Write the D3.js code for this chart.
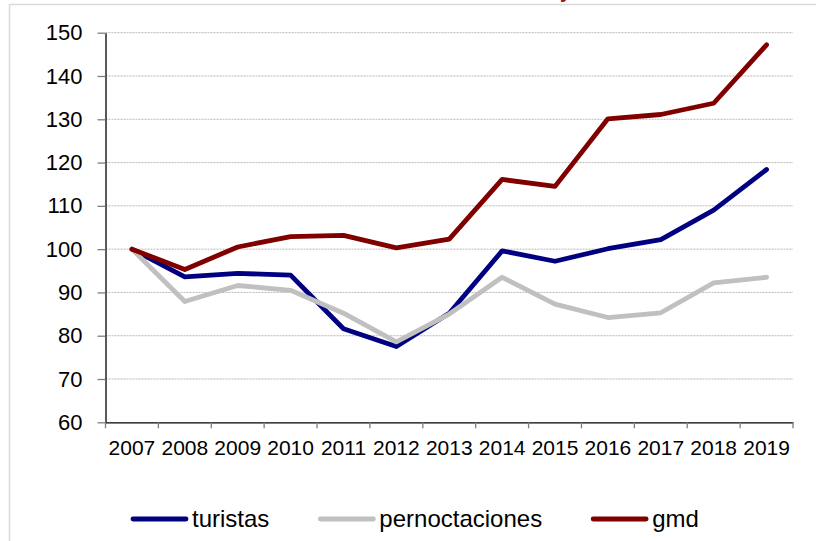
<!DOCTYPE html>
<html>
<head>
<meta charset="utf-8">
<script src="https://cdn.jsdelivr.net/npm/d3@7"></script>
<style>
  html, body { margin: 0; padding: 0; background: #fff; }
  svg { display: block; font-family: "Liberation Sans", Arial, sans-serif; }
</style>
</head>
<body>
<svg id="chart" width="816" height="541"></svg>
<script>
const years = ["2007","2008","2009","2010","2011","2012","2013","2014","2015","2016","2017","2018","2019"];
const turistas = [100, 93.6, 94.4, 94.0, 81.6, 77.5, 85.2, 99.6, 97.2, 100.1, 102.2, 109.0, 118.4];
const pernoctaciones = [100, 87.9, 91.6, 90.5, 85.2, 78.6, 85.0, 93.5, 87.3, 84.2, 85.3, 92.2, 93.5];
const gmd = [100, 95.3, 100.5, 102.9, 103.2, 100.3, 102.3, 116.1, 114.5, 130.1, 131.1, 133.7, 147.2];
const yTicks = [60, 70, 80, 90, 100, 110, 120, 130, 140, 150];
const seriesNames = ["turistas", "pernoctaciones", "gmd"];
const seriesColors = ["#000080", "#c0c0c0", "#800000"];
const seriesValues = [turistas, pernoctaciones, gmd];

const svg = d3.select("#chart");
const plotLeft = 105.5, plotRight = 793, plotTop = 32.7, plotBottom = 422.3;

// outer frame (partial border)
svg.append("line").attr("x1", 9.5).attr("x2", 816).attr("y1", 4.5).attr("y2", 4.5)
  .attr("stroke", "#d9d9d9").attr("stroke-width", 1.5);
svg.append("line").attr("x1", 9.5).attr("x2", 9.5).attr("y1", 4.5).attr("y2", 541)
  .attr("stroke", "#d9d9d9").attr("stroke-width", 1.5);

// cut-off title descender (title lies above the visible area in the reference)
svg.append("text").attr("x", 560).attr("y", -2)
  .attr("fill", "#a0102a").attr("font-size", 20).attr("font-weight", "bold").text("y");

const x = d3.scaleBand().domain(years).range([plotLeft, plotRight]).paddingInner(0).paddingOuter(0);
const y = d3.scaleLinear().domain([60, 150]).range([plotBottom, plotTop]);

// gridlines
svg.append("g").selectAll("line").data(yTicks.filter(d => d > 60)).join("line")
  .attr("x1", plotLeft).attr("x2", plotRight)
  .attr("y1", d => y(d)).attr("y2", d => y(d))
  .attr("stroke", "#b8b8b8").attr("stroke-width", 1).attr("stroke-dasharray", "2,1");

// y axis
const yAxis = svg.append("g").attr("transform", `translate(${plotLeft},0)`)
  .call(d3.axisLeft(y).tickValues(yTicks).tickSize(8).tickSizeOuter(0).tickPadding(15));
yAxis.select(".domain").attr("stroke", "#000").attr("stroke-width", 1.3);
yAxis.selectAll(".tick line").attr("stroke", "#7f7f7f").attr("stroke-width", 1.3);
yAxis.selectAll(".tick text").attr("font-size", 22).attr("fill", "#000")
  .attr("font-family", "Liberation Sans, Arial, sans-serif");

// x axis
const xAxis = svg.append("g").attr("transform", `translate(0,${plotBottom})`)
  .call(d3.axisBottom(x).tickSize(0).tickSizeOuter(0));
xAxis.select(".domain").attr("stroke", "#000").attr("stroke-width", 1.3);
xAxis.selectAll(".tick text").attr("font-size", 21).attr("fill", "#000")
  .attr("font-family", "Liberation Sans, Arial, sans-serif")
  .attr("dy", null).attr("y", 33);
const boundaries = years.map(d => x(d)).concat([x(years[years.length - 1]) + x.bandwidth()]);
xAxis.append("g").selectAll("line").data(boundaries).join("line")
  .attr("x1", d => d).attr("x2", d => d).attr("y1", 0).attr("y2", 6)
  .attr("stroke", "#7f7f7f").attr("stroke-width", 1.3);

// lines
const line = d3.line().x((d, i) => x(years[i]) + x.bandwidth() / 2).y(d => y(d));
seriesValues.forEach((vals, k) => {
  svg.append("path").datum(vals)
    .attr("d", line)
    .attr("fill", "none")
    .attr("stroke", seriesColors[k])
    .attr("stroke-width", 4.8)
    .attr("stroke-linejoin", "round")
    .attr("stroke-linecap", "round");
});

// legend
const legend = svg.append("g");
let lx = 133;
const ly = 519;
seriesNames.forEach((name, k) => {
  legend.append("line").attr("x1", lx).attr("x2", lx + 53).attr("y1", ly).attr("y2", ly)
    .attr("stroke", seriesColors[k]).attr("stroke-width", 4.8).attr("stroke-linecap", "round");
  const t = legend.append("text").attr("x", lx + 59).attr("y", ly).attr("dy", "0.35em")
    .attr("font-size", 24).attr("fill", "#000").text(name);
  lx = lx + 59 + t.node().getComputedTextLength() + 51;
});
</script>
</body>
</html>
